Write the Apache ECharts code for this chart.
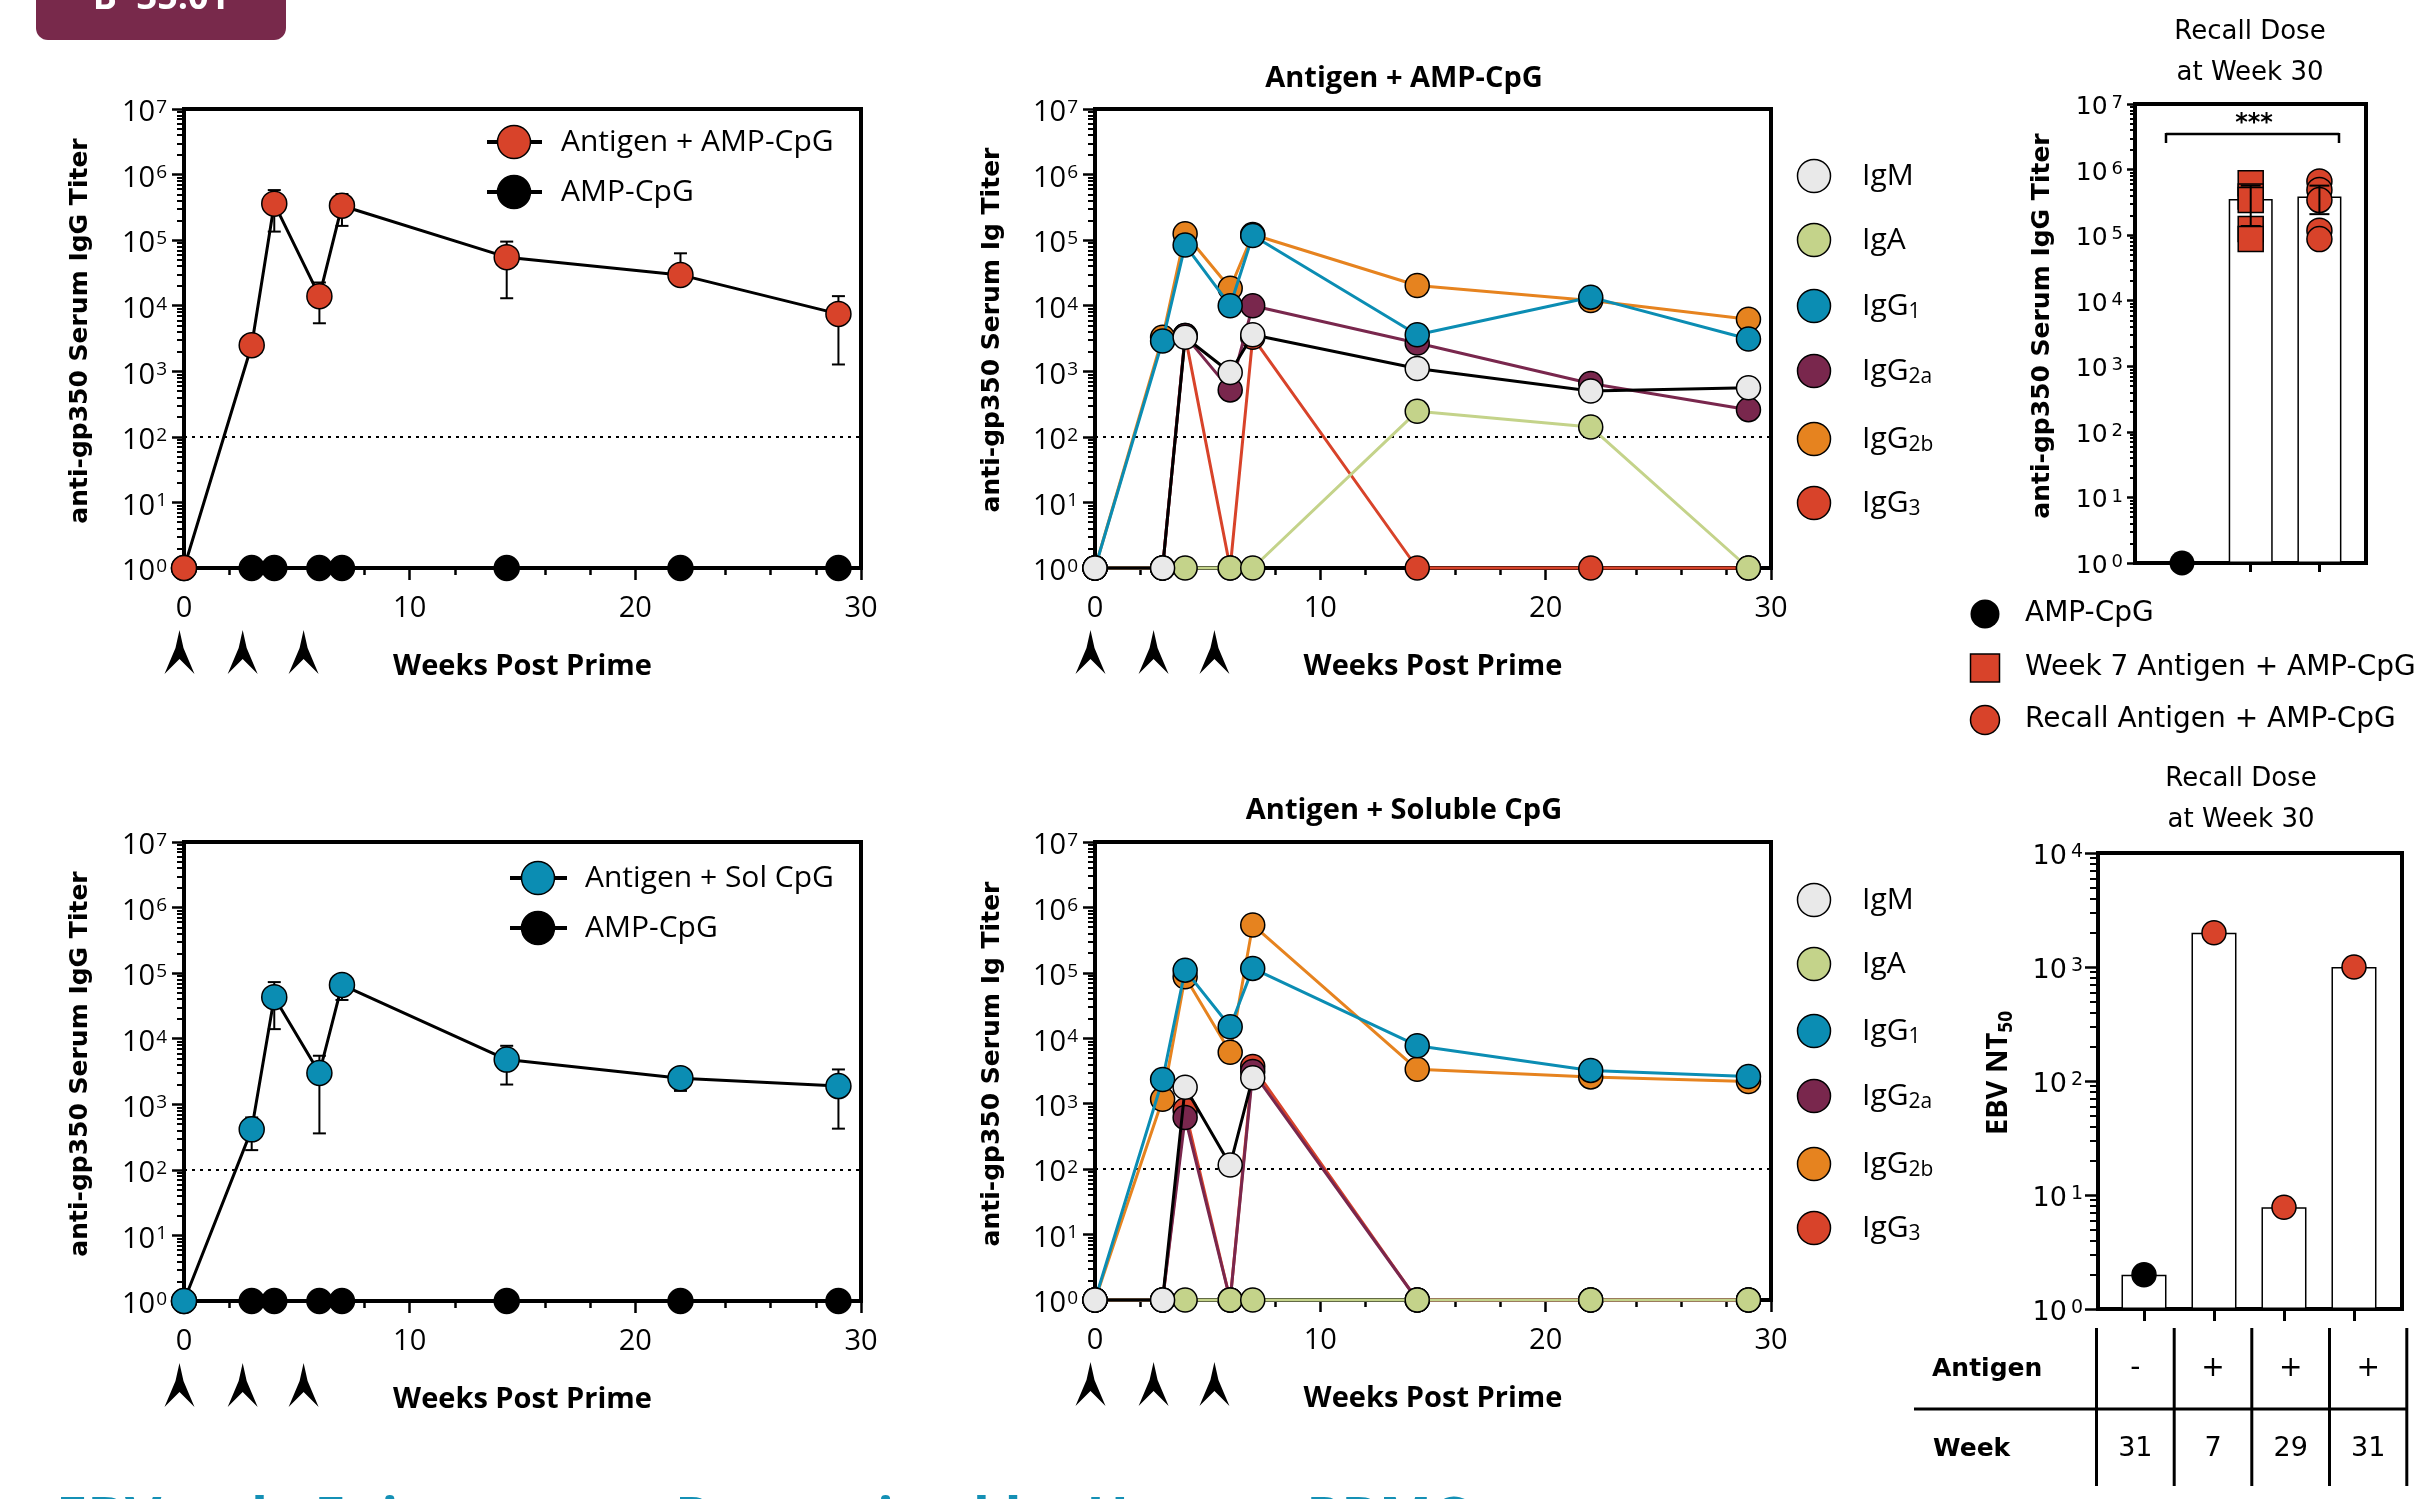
<!DOCTYPE html>
<html><head><meta charset="utf-8">
<script src="https://cdn.jsdelivr.net/npm/echarts@6/dist/echarts.min.js"></script>
<style>html,body{margin:0;padding:0;background:#fff;overflow:hidden}#c{width:2434px;height:1499px}</style>
</head><body><div id="c"></div>
<script>
// ---------------- DATA ----------------
const weeks = [0, 3, 4, 6, 7, 14.3, 22, 29];
const doseWeeks = [-0.2, 2.6, 5.3];

// Panel A: Antigen + AMP-CpG vs AMP-CpG (total IgG)
const ampAntigenTiter = [1, 2500, 360000, 14000, 335000, 55000, 29500, 7500];
const ampAntigenErrLow = [null, null, 135000, 5400, 165000, 13000, null, 1270];
const ampAntigenErrHigh = [null, null, 580000, 22600, 505000, 95000, 63000, 14000];
const ampOnlyTiterA = [1, 1, 1, 1, 1, 1, 1, 1];

// Panel D: Antigen + Sol CpG vs AMP-CpG (total IgG)
const solAntigenTiter = [1, 415, 43000, 3000, 66000, 4800, 2500, 1900];
const solAntigenErrLow = [null, 200, 14000, 360, 39000, 2000, 1600, 425];
const solAntigenErrHigh = [null, 630, 73000, 5500, 93000, 7800, 3400, 3400];
const ampOnlyTiterD = [1, 1, 1, 1, 1, 1, 1, 1];

// Panel B: isotypes, Antigen + AMP-CpG
const ampIgM  = [1, 1, 3300, 960, 3600, 1100, 500, 560];
const ampIgA  = [1, 1, 1, 1, 1, 245, 141, 1];
const ampIgG1 = [1, 2900, 84000, 10000, 118000, 3600, 13500, 3100];
const ampIgG2a = [1, 1, 3500, 520, 10000, 2700, 650, 260];
const ampIgG2b = [1, 3300, 125000, 18500, 122000, 20300, 12000, 6200];
const ampIgG3 = [1, 1, 3500, 1, 3300, 1, 1, 1];

// Panel E: isotypes, Antigen + Soluble CpG
const solIgM  = [1, 1, 1780, 116, 2500, null, null, null];
const solIgA  = [1, 1, 1, 1, 1, 1, 1, 1];
const solIgG1 = [1, 2350, 110000, 15000, 117000, 7700, 3230, 2600];
const solIgG2a = [1, 1, 614, 1, 3100, 1, 1, 1];
const solIgG2b = [1, 1170, 87000, 6100, 540000, 3360, 2570, 2180];
const solIgG3 = [1, 1, 800, 1, 3700, 1, 1, 1];

// Panel C: recall dose at week 30
const recallGroups = ['AMP-CpG', 'Week 7 Antigen + AMP-CpG', 'Recall Antigen + AMP-CpG'];
const recallMeans = [null, 356000, 389000];
const recallErrLow = [null, 138000, 209000];
const recallErrHigh = [null, 569000, 569000];
const recallAmpOnly = [1];
const recallWeek7 = [617000, 390000, 343000, 124000, 87000];
const recallRecall = [660000, 490000, 343000, 117000, 87000];

// Panel F: EBV NT50
const nt50Antigen = ['-', '+', '+', '+'];
const nt50Week = ['31', '7', '29', '31'];
const nt50Values = [2, 2000, 7.8, 1000];

// ---------------- STYLE ----------------
const FONT = "'Open Sans', sans-serif";
const WIDE = "'DejaVu Sans', sans-serif";
const RED = '#d8432a', TEAL = '#0b8db3', ORANGE = '#e6831f', MAROON = '#79274d', GREEN = '#c4d38a', IGM = '#e9e9e9';

function minorLogTicks(decades) {
  const out = [];
  for (let e = 0; e < decades; e++) for (let m = 2; m < 10; m++) out.push(e + Math.log10(m));
  return out;
}

const grids = [
  {left: 184, top: 109, width: 677, height: 459},
  {left: 1095, top: 109, width: 676, height: 459},
  {left: 2135, top: 104, width: 231, height: 459},
  {left: 184, top: 842, width: 677, height: 459},
  {left: 1095, top: 842, width: 676, height: 458},
  {left: 2098, top: 853, width: 304, height: 456}
].map(g => Object.assign({show: true, borderColor: '#000', borderWidth: 4, backgroundColor: 'transparent', outerBoundsMode: 'none', containLabel: false}, g));

function logAxis(gi, maxV, o) {
  return {
    type: 'log', logBase: 10, gridIndex: gi, min: 1, max: maxV, interval: 1, splitNumber: Math.round(Math.log10(maxV)),
    position: 'left',
    axisLine: {show: true, onZero: false, lineStyle: {color: '#000', width: 4}},
    axisTick: {show: true, length: o.tickLen, lineStyle: {color: '#000', width: 2.5}},
    minorTick: {show: false},
    splitLine: {show: false},
    axisLabel: {
      show: true, margin: o.margin, padding: [o.padTop, 0, 0, 0],
      formatter: v => '{b|10}{s|' + Math.round(Math.log10(v)) + '}',
      rich: {
        b: {fontFamily: o.ff, fontSize: o.fs, color: '#000', lineHeight: o.lh},
        s: {fontFamily: o.ff, fontSize: o.sfs, color: '#000', lineHeight: o.slh, verticalAlign: 'top', padding: [0, 0, 0, o.sgap]}
      }
    }
  };
}
function minorAxis(gi, decades, len) {
  return {
    type: 'value', gridIndex: gi, min: 0, max: decades, position: 'left',
    axisLine: {show: false, onZero: false}, axisLabel: {show: false}, splitLine: {show: false},
    axisTick: {show: true, length: len, lineStyle: {color: '#000', width: 2}, customValues: minorLogTicks(decades)}
  };
}
function weekAxis(gi) {
  return {
    type: 'value', gridIndex: gi, min: 0, max: 30, interval: 10, position: 'bottom',
    axisLine: {onZero: false, lineStyle: {color: '#000', width: 4}},
    axisTick: {length: 12, lineStyle: {color: '#000', width: 2.5}},
    minorTick: {show: true, splitNumber: 5, length: 7, lineStyle: {color: '#000', width: 2.5}},
    axisLabel: {margin: 26, fontFamily: FONT, fontSize: 29, color: '#000'},
    splitLine: {show: false}, minorSplitLine: {show: false}
  };
}
function catAxis(gi, min, max, ticks, len) {
  return {
    type: 'value', gridIndex: gi, min, max, position: 'bottom',
    axisLine: {onZero: false, lineStyle: {color: '#000', width: 4}},
    axisTick: {show: true, length: len, lineStyle: {color: '#000', width: 3}, customValues: ticks},
    axisLabel: {show: false}, splitLine: {show: false}
  };
}

const labA = {tickLen: 12, margin: 17, padTop: 8, ff: FONT, fs: 29, sfs: 19, lh: 30, slh: 10, sgap: 1};
const labC = {tickLen: 8, margin: 12, padTop: 7, ff: WIDE, fs: 25, sfs: 18, lh: 26, slh: 8, sgap: 4};
const labF = {tickLen: 13, margin: 15, padTop: 8, ff: WIDE, fs: 27, sfs: 19, lh: 28, slh: 16, sgap: 4};

const xAxes = [
  weekAxis(0), weekAxis(1),
  catAxis(2, -0.684, 2.678, [0, 1, 2], 9),
  weekAxis(3), weekAxis(4),
  catAxis(5, -0.657, 3.686, [0, 1, 2, 3], 12)
];
const yAxes = [
  logAxis(0, 1e7, labA), logAxis(1, 1e7, labA), logAxis(2, 1e7, labC),
  logAxis(3, 1e7, labA), logAxis(4, 1e7, labA), logAxis(5, 1e4, labF),
  minorAxis(0, 7, 7), minorAxis(1, 7, 7), minorAxis(2, 7, 5),
  minorAxis(3, 7, 7), minorAxis(4, 7, 7), minorAxis(5, 4, 8)
];

const dotted = {silent: true, symbol: 'none', label: {show: false}, lineStyle: {type: [3, 5], color: '#000', width: 2}, data: [{yAxis: 100}], animation: false};

function pairs(xs, ys) { return xs.map((x, i) => [x, ys[i] == null ? null : ys[i]]); }
function lineSeries(name, gi, ys, fill, lineColor, size, z, withMark) {
  const s = {
    type: 'line', name, xAxisIndex: gi, yAxisIndex: gi, data: pairs(weeks, ys),
    symbol: 'circle', symbolSize: size, showSymbol: true, clip: false, z, animation: false,
    itemStyle: {color: fill, borderColor: '#000', borderWidth: 1.5, opacity: 1},
    lineStyle: {color: lineColor, width: 3}, emphasis: {disabled: true}
  };
  if (withMark) s.markLine = dotted;
  return s;
}
function errSeries(gi, xs, means, lows, highs, capW, z) {
  const data = [];
  xs.forEach((x, i) => {
    if (means[i] == null || (lows[i] == null && highs[i] == null)) return;
    data.push([x, lows[i] == null ? means[i] : lows[i], highs[i] == null ? means[i] : highs[i]]);
  });
  return {
    type: 'custom', xAxisIndex: gi, yAxisIndex: gi, data, z, clip: false, animation: false,
    encode: {x: 0, y: [1, 2]},
    renderItem: (params, api) => {
      const x = api.value(0);
      const p1 = api.coord([x, api.value(1)]), p2 = api.coord([x, api.value(2)]);
      const cw = capW / 2, st = {stroke: '#000', lineWidth: 2};
      return {type: 'group', children: [
        {type: 'line', shape: {x1: p1[0], y1: p1[1], x2: p2[0], y2: p2[1]}, style: st},
        {type: 'line', shape: {x1: p2[0] - cw, y1: p2[1], x2: p2[0] + cw, y2: p2[1]}, style: st},
        {type: 'line', shape: {x1: p1[0] - cw, y1: p1[1], x2: p1[0] + cw, y2: p1[1]}, style: st}
      ]};
    }
  };
}
function isotypeSeries(gi, d) {
  return [
    lineSeries('IgG3', gi, d.g3, RED, RED, 24, 3, true),
    lineSeries('IgG2a', gi, d.g2a, MAROON, MAROON, 24, 4),
    lineSeries('IgG2b', gi, d.g2b, ORANGE, ORANGE, 24, 5),
    lineSeries('IgG1', gi, d.g1, TEAL, TEAL, 24, 6),
    lineSeries('IgA', gi, d.a, GREEN, GREEN, 24, 7),
    lineSeries('IgM', gi, d.m, IGM, '#000', 24, 8)
  ];
}

const series = [
  // A
  lineSeries('AMP-CpG', 0, ampOnlyTiterA, '#000', '#000', 25, 3, true),
  errSeries(0, weeks, ampAntigenTiter, ampAntigenErrLow, ampAntigenErrHigh, 13, 4),
  lineSeries('Antigen + AMP-CpG', 0, ampAntigenTiter, RED, '#000', 25, 5),
  // B
  ...isotypeSeries(1, {m: ampIgM, a: ampIgA, g1: ampIgG1, g2a: ampIgG2a, g2b: ampIgG2b, g3: ampIgG3}),
  // C
  {type: 'bar', xAxisIndex: 2, yAxisIndex: 2, barWidth: 44, z: 2, animation: false,
   data: recallMeans.map((v, i) => [i, v]).filter(d => d[1] != null),
   itemStyle: {color: '#fff', borderColor: '#000', borderWidth: 1.5}},
  {type: 'scatter', xAxisIndex: 2, yAxisIndex: 2, symbol: 'circle', symbolSize: 25, z: 3, clip: false, animation: false,
   data: recallAmpOnly.map(v => [0, v]), itemStyle: {color: '#000', opacity: 1}},
  {type: 'scatter', xAxisIndex: 2, yAxisIndex: 2, symbol: 'rect', symbolSize: 25, z: 3, clip: false, animation: false,
   data: recallWeek7.map(v => [1, v]), itemStyle: {color: RED, borderColor: '#000', borderWidth: 1.5, opacity: 1}},
  {type: 'scatter', xAxisIndex: 2, yAxisIndex: 2, symbol: 'circle', symbolSize: 25, z: 3, clip: false, animation: false,
   data: recallRecall.map(v => [2, v]), itemStyle: {color: RED, borderColor: '#000', borderWidth: 1.5, opacity: 1}},
  errSeries(2, [0, 1, 2], recallMeans, recallErrLow, recallErrHigh, 20, 4),
  // D
  lineSeries('AMP-CpG', 3, ampOnlyTiterD, '#000', '#000', 25, 3, true),
  errSeries(3, weeks, solAntigenTiter, solAntigenErrLow, solAntigenErrHigh, 13, 4),
  lineSeries('Antigen + Sol CpG', 3, solAntigenTiter, TEAL, '#000', 25, 5),
  // E
  ...isotypeSeries(4, {m: solIgM, a: solIgA, g1: solIgG1, g2a: solIgG2a, g2b: solIgG2b, g3: solIgG3}),
  // F
  {type: 'bar', xAxisIndex: 5, yAxisIndex: 5, barWidth: 45, z: 2, animation: false,
   data: nt50Values.map((v, i) => [i, v]),
   itemStyle: {color: '#fff', borderColor: '#000', borderWidth: 1.5}},
  {type: 'scatter', xAxisIndex: 5, yAxisIndex: 5, symbol: 'circle', symbolSize: 24, z: 3, clip: false, animation: false,
   data: nt50Values.map((v, i) => ({value: [i, v], itemStyle: {color: nt50Antigen[i] === '-' ? '#000' : RED, opacity: 1}})),
   itemStyle: {borderColor: '#000', borderWidth: 1.5, opacity: 1}}
];

const chart = echarts.init(document.getElementById('c'));
chart.setOption({animation: false, backgroundColor: '#fff', grid: grids, xAxis: xAxes, yAxis: yAxes, series});

// ---------------- ANNOTATIONS ----------------
function txt(x, y, text, o) {
  o = o || {};
  const style = {text, fill: o.fill || '#000', align: o.align || 'center', verticalAlign: o.va || 'middle',
    fontFamily: o.ff || FONT, fontSize: o.fs || 28, fontWeight: o.fw || 'normal'};
  if (o.rich) style.rich = o.rich;
  return {type: 'text', x, y, rotation: o.rot || 0, z: 100, style};
}
function ln(x1, y1, x2, y2, w) { return {type: 'line', z: 100, shape: {x1, y1, x2, y2}, style: {stroke: '#000', lineWidth: w || 3}}; }
function circ(cx, cy, r, fill) { return {type: 'circle', z: 101, shape: {cx, cy, r}, style: {fill, stroke: '#000', lineWidth: 1.5}}; }

const els = [];
// badge
els.push({type: 'rect', z: 100, shape: {x: 36, y: -30, width: 250, height: 70, r: 12}, style: {fill: '#78294b'}});
els.push(txt(161, -1, 'B*35:01', {fs: 36, fw: 'bold', fill: '#fff'}));

// arrows & x titles
function arrows(gi) {
  const yb = chart.convertToPixel({yAxisIndex: gi}, 1);
  doseWeeks.forEach(w => {
    const cx = chart.convertToPixel({xAxisIndex: gi}, w);
    const tip = yb + 62, bot = yb + 106, notch = yb + 91;
    els.push({type: 'polygon', z: 100, shape: {points: [[cx, tip], [cx + 4, tip + 18], [cx + 15, bot], [cx, notch], [cx - 15, bot], [cx - 4, tip + 18]]}, style: {fill: '#000'}});
  });
  const xm = chart.convertToPixel({xAxisIndex: gi}, 15);
  els.push(txt(xm, yb + 99, 'Weeks Post Prime', {fs: 29, fw: 'bold'}));
}
[0, 1, 3, 4].forEach(arrows);

// y titles
els.push(txt(80, 331, 'anti-gp350 Serum IgG Titer', {ff: WIDE, fs: 25, fw: 'bold', rot: Math.PI / 2}));
els.push(txt(80, 1064, 'anti-gp350 Serum IgG Titer', {ff: WIDE, fs: 25, fw: 'bold', rot: Math.PI / 2}));
els.push(txt(992, 330, 'anti-gp350 Serum Ig Titer', {ff: WIDE, fs: 25, fw: 'bold', rot: Math.PI / 2}));
els.push(txt(992, 1064, 'anti-gp350 Serum Ig Titer', {ff: WIDE, fs: 25, fw: 'bold', rot: Math.PI / 2}));
els.push(txt(2042, 326, 'anti-gp350 Serum IgG Titer', {ff: WIDE, fs: 25, fw: 'bold', rot: Math.PI / 2}));
els.push(txt(1999, 1073, '{m|EBV NT}{s|50}', {rot: Math.PI / 2, rich: {
  m: {fontFamily: FONT, fontSize: 29, fontWeight: 'bold', lineHeight: 34},
  s: {fontFamily: FONT, fontSize: 19, fontWeight: 'bold', lineHeight: 18, verticalAlign: 'bottom'}}}));

// panel titles
els.push(txt(1404, 79, 'Antigen + AMP-CpG', {fs: 29, fw: 'bold'}));
els.push(txt(1404, 811, 'Antigen + Soluble CpG', {fs: 29, fw: 'bold'}));
[[2250, 32], [2250, 73]].forEach((p, i) => els.push(txt(p[0], p[1], i ? 'at Week 30' : 'Recall Dose', {ff: WIDE, fs: 26})));
[[2241, 779], [2241, 820]].forEach((p, i) => els.push(txt(p[0], p[1], i ? 'at Week 30' : 'Recall Dose', {ff: WIDE, fs: 26})));

// legends A / D
function lineLegend(x1, x2, cx, tx, y, fill, label) {
  els.push(ln(x1, y, x2, y, 4));
  els.push(circ(cx, y, 16.5, fill));
  els.push(txt(tx, y, label, {align: 'left', fs: 30}));
}
lineLegend(487, 542, 514, 561, 142, RED, 'Antigen + AMP-CpG');
lineLegend(487, 542, 514, 561, 192, '#000', 'AMP-CpG');
lineLegend(510, 567, 538, 585, 878, TEAL, 'Antigen + Sol CpG');
lineLegend(510, 567, 538, 585, 928, '#000', 'AMP-CpG');

// legends B / E
const isoLegend = [['IgM', '', IGM], ['IgA', '', GREEN], ['IgG', '1', TEAL], ['IgG', '2a', MAROON], ['IgG', '2b', ORANGE], ['IgG', '3', RED]];
const isoRich = {m: {fontFamily: FONT, fontSize: 30, lineHeight: 34}, s: {fontFamily: FONT, fontSize: 21, lineHeight: 20, verticalAlign: 'bottom'}};
function isoLeg(ys) {
  isoLegend.forEach((it, i) => {
    els.push(circ(1814, ys[i], 16.5, it[2]));
    els.push(txt(1862, ys[i], '{m|' + it[0] + '}' + (it[1] ? '{s|' + it[1] + '}' : ''), {align: 'left', rich: isoRich}));
  });
}
isoLeg([176, 240, 306, 371, 439, 503]);
isoLeg([900, 964, 1031, 1096, 1164, 1228]);

// panel C bracket & legend
els.push(ln(2166, 134, 2339, 134, 2.5));
els.push(ln(2166, 133, 2166, 143, 2.5));
els.push(ln(2339, 133, 2339, 143, 2.5));
els.push(txt(2254, 124, '***', {fs: 24, fw: 'bold', ff: WIDE}));
els.push({type: 'circle', z: 101, shape: {cx: 1985, cy: 614, r: 14.5}, style: {fill: '#000'}});
els.push({type: 'rect', z: 101, shape: {x: 1970.5, y: 654, width: 29, height: 28}, style: {fill: RED, stroke: '#000', lineWidth: 1.5}});
els.push(circ(1985, 720, 14.5, RED));
recallGroups.forEach((g, i) => els.push(txt(2025, [614, 668, 720][i], g, {align: 'left', ff: WIDE, fs: 28})));

// panel F table
const colX = [2096.5, 2174.2, 2251.8, 2329.5, 2406.8];
colX.forEach(x => els.push(ln(x, 1328, x, 1486, 3)));
els.push(ln(1914, 1409, 2407, 1409, 3));
els.push(txt(1932, 1369, 'Antigen', {align: 'left', ff: WIDE, fs: 25, fw: 'bold'}));
els.push(txt(1933, 1449, 'Week', {align: 'left', ff: WIDE, fs: 25, fw: 'bold'}));
nt50Antigen.forEach((a, i) => {
  const cx = (colX[i] + colX[i + 1]) / 2;
  els.push(txt(cx, 1369, a, {ff: WIDE, fs: 28}));
  els.push(txt(cx, 1449, nt50Week[i], {ff: WIDE, fs: 27}));
});

// cut-off heading at bottom
els.push(txt(56, 1493, 'EBV-only Epitopes are Recognized by Human PBMCs', {align: 'left', va: 'top', fs: 56, fw: 'bold', fill: '#1490b5'}));

chart.setOption({graphic: {elements: els}});
</script></body></html>
